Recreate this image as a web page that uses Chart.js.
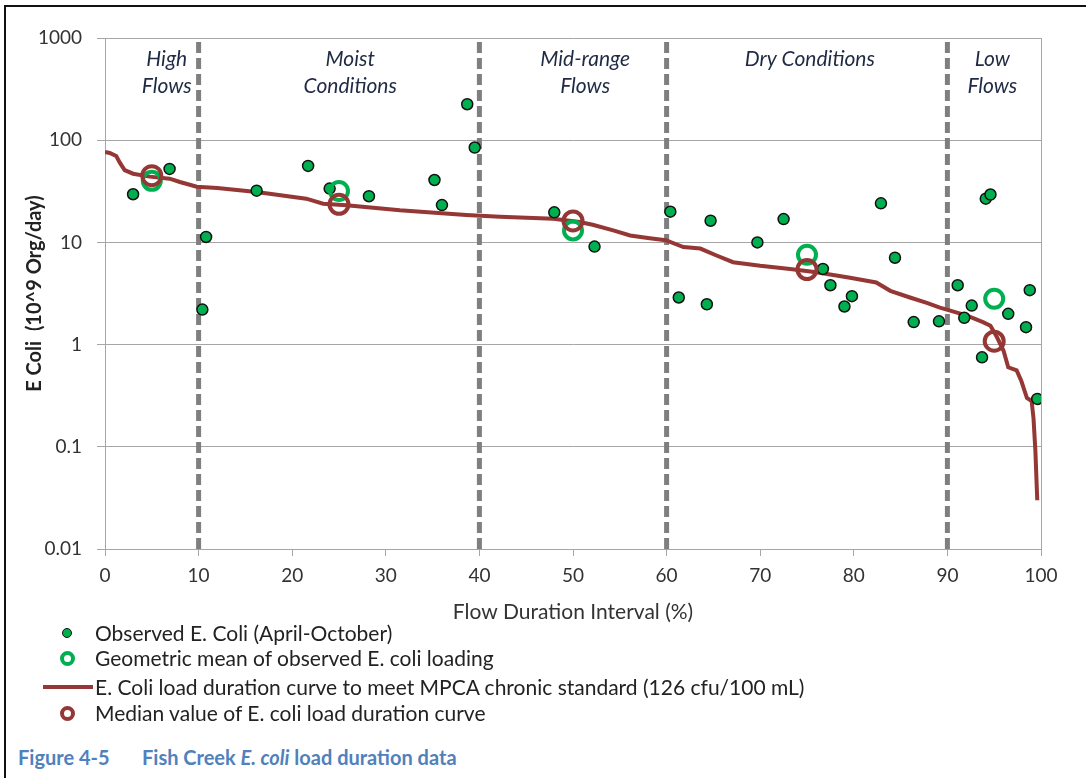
<!DOCTYPE html>
<html>
<head>
<meta charset="utf-8">
<script src="https://cdn.jsdelivr.net/npm/chart.js@4/dist/chart.umd.min.js"></script>
<style>
  body { margin: 0; background: #fff; width: 1086px; height: 778px; overflow: hidden; position: relative; font-family: Lato, "Open Sans", sans-serif; }
  #frame { position: absolute; left: 4px; top: 5px; width: 1200px; height: 900px; border-top: 2px solid #111; border-left: 2px solid #111; }
  #wrap { position: absolute; left: 0; top: 0; width: 1086px; height: 630px; }
  .leg { position: absolute; left: 95px; font-size: 21px; color: #222; line-height: 24px; white-space: nowrap; }
  .mk { position: absolute; box-sizing: border-box; border-radius: 50%; }
  .cap { position: absolute; top: 745px; font-size: 20px; line-height: 24px; font-weight: bold; color: #4f81bd; white-space: nowrap; }
</style>
</head>
<body>
<div id="frame"></div>
<div id="wrap"><canvas id="chart" width="1086" height="630"></canvas></div>

<!-- legend -->
<div class="mk" style="left:62px;top:628px;width:10px;height:10px;background:#00b050;border:1.5px solid #111;"></div>
<div class="leg" style="top:621px;">Observed E. Coli (April-October)</div>
<div class="mk" style="left:60px;top:651px;width:15px;height:15px;border:4px solid #00b050;"></div>
<div class="leg" style="top:646px;">Geometric mean of observed E. coli loading</div>
<div style="position:absolute;left:43px;top:685px;width:50px;height:4px;background:#953735;"></div>
<div class="leg" style="top:675px;">E. Coli load duration curve to meet MPCA chronic standard (126 cfu/100 mL)</div>
<div class="mk" style="left:60px;top:706px;width:15px;height:15px;border:4px solid #953735;"></div>
<div class="leg" style="top:701px;">Median value of E. coli load duration curve</div>

<div class="cap" style="left:18px;">Figure 4-5</div>
<div class="cap" style="left:142px;">Fish Creek <i>E. coli</i> load duration data</div>

<script>
// observed E. coli loads (April-October)
var obsX = [3.0, 6.9, 10.4, 10.8, 16.2, 21.7, 24.0, 28.2, 35.2, 36.0, 38.7, 39.5, 48.0, 52.3,
  60.4, 61.3, 64.3, 64.7, 69.7, 72.5, 76.7, 77.5, 79.0, 79.8, 82.9, 84.4, 86.4, 89.1,
  91.1, 91.8, 92.6, 93.7, 94.1, 94.6, 96.5, 98.4, 98.8, 99.6];
var obsY = [29.6, 52.4, 2.2, 11.3, 32.1, 56, 33.6, 28.3, 40.8, 23.2, 225, 84.8, 19.7, 9.1,
  20.0, 2.89, 2.48, 16.3, 10.0, 16.9, 5.5, 3.81, 2.36, 2.98, 24.1, 7.08, 1.66, 1.69,
  3.81, 1.83, 2.41, 0.75, 26.8, 29.4, 2.0, 1.48, 3.41, 0.294];

// zone midpoints
var zoneX = [5, 25, 50, 75, 95];
var geoMean = [40, 31.8, 13.1, 7.57, 2.81];
var medianLoad = [45, 23.6, 16.2, 5.43, 1.08];

// load duration curve
var curveX = [0, 0.5, 1.2, 1.6, 2.1, 3, 4.8, 6.9, 8, 9.8, 12, 16.2, 21.5, 23.3, 25.8, 31.5,
  38.6, 42.2, 47.9, 50.7, 52.1, 54.3, 56.1, 58.2, 59.9, 61.8, 63.6, 65.4, 67.1, 70, 73.2,
  76, 79.6, 82.4, 83.9, 86, 87.8, 89.2, 90.3, 92.1, 93.8, 94.6, 95.3, 96, 96.5, 97.4, 97.9,
  98.5, 99.0, 99.2, 99.4, 99.6];
var curveY = [76.8, 75, 70, 60, 51, 47, 44, 42, 39, 35, 34, 31.1, 26.8, 23.9, 23.1, 20.6,
  18.5, 17.8, 17, 15.8, 14.9, 13.1, 11.7, 11, 10.5, 9.0, 8.7, 7.4, 6.4, 5.9, 5.5,
  5.1, 4.5, 4.05, 3.36, 2.89, 2.56, 2.3, 2.15, 1.92, 1.66, 1.53, 1.18, 0.87, 0.6, 0.56, 0.44,
  0.30, 0.28, 0.19, 0.091, 0.03];

var zoneBounds = [10, 40, 60, 90];
var zoneNames = [["High", "Flows"], ["Moist", "Conditions"], ["Mid-range", "Flows"], ["Dry Conditions"], ["Low", "Flows"]];
var zoneLabelX = [6.6, 26.2, 51.3, 75.3, 94.8];

var yTicks = [0.01, 0.1, 1, 10, 100, 1000];

function pairs(xs, ys) {
  return xs.map((x, i) => ({ x: x, y: ys[i] }));
}

var datasets = [];
zoneBounds.forEach((b) => {
  datasets.push({
    type: "line",
    data: [{ x: b, y: 0.01 }, { x: b, y: 1000 }],
    borderColor: "#7f7f7f",
    borderWidth: 5,
    borderDash: [11, 5],
    pointRadius: 0,
    order: 10,
  });
});
datasets.push({
  type: "line",
  data: pairs(curveX, curveY),
  borderColor: "#953735",
  borderWidth: 4,
  pointRadius: 0,
  tension: 0,
  order: 4,
});
datasets.push({
  data: pairs(obsX, obsY),
  backgroundColor: "#00b050",
  borderColor: "#111",
  borderWidth: 1.5,
  pointRadius: 5.5,
  order: 3,
});
datasets.push({
  data: pairs(zoneX, geoMean),
  backgroundColor: "rgba(0,0,0,0)",
  borderColor: "#00b050",
  borderWidth: 4,
  pointRadius: 9,
  order: 2,
});
datasets.push({
  data: pairs(zoneX, medianLoad),
  backgroundColor: "rgba(0,0,0,0)",
  borderColor: "#953735",
  borderWidth: 4,
  pointRadius: 9.5,
  order: 1,
});

// italic zone names at the top of each flow zone
const zoneLabels = {
  id: "zoneLabels",
  afterDatasetsDraw(chart) {
    const ctx = chart.ctx;
    const xs = chart.scales.x;
    const top = chart.chartArea.top;
    ctx.save();
    ctx.font = "italic 21px Lato";
    ctx.fillStyle = "#1f2a44";
    ctx.textAlign = "center";
    ctx.textBaseline = "middle";
    zoneNames.forEach((lines, i) => {
      const px = xs.getPixelForValue(zoneLabelX[i]);
      lines.forEach((t, j) => {
        ctx.fillText(t, px, top + 21 + j * 27);
      });
    });
    ctx.restore();
  },
};

new Chart(document.getElementById("chart"), {
  type: "scatter",
  data: { datasets: datasets },
  options: {
    responsive: false,
    animation: false,
    devicePixelRatio: 1,
    layout: { padding: { left: 0, top: 38, right: 45, bottom: 0 } },
    plugins: { legend: { display: false }, tooltip: { enabled: false } },
    scales: {
      x: {
        type: "linear",
        min: 0,
        max: 100,
        ticks: { stepSize: 10, color: "#333", font: { family: "Lato", size: 19 }, padding: 8 },
        grid: {
          color: (c) => (c.tick && c.tick.value === 100 ? "#a6a6a6" : "rgba(0,0,0,0)"),
          tickColor: "#a6a6a6",
          tickLength: 7,
        },
        border: { color: "#a6a6a6" },
        title: {
          display: true,
          text: "Flow Duration Interval (%)",
          color: "#333",
          font: { family: "Lato", size: 21 },
          padding: { top: 0, bottom: 5 },
        },
        afterFit: (s) => { s.height = 81; },
      },
      y: {
        type: "logarithmic",
        min: 0.01,
        max: 1000,
        afterBuildTicks: (s) => { s.ticks = yTicks.map((v) => ({ value: v })); },
        ticks: {
          color: "#333",
          font: { family: "Lato", size: 19 },
          padding: 15,
          callback: (v) => String(v),
        },
        grid: { color: "#a6a6a6", tickLength: 8 },
        border: { color: "#a6a6a6" },
        title: {
          display: true,
          text: "E Coli  (10^9 Org/day)",
          color: "#222",
          font: { family: "Lato", size: 20, weight: "bold" },
          padding: { top: 23, bottom: 0 },
        },
        afterFit: (s) => { s.width = 105; },
      },
    },
  },
  plugins: [zoneLabels],
});
</script>
</body>
</html>
